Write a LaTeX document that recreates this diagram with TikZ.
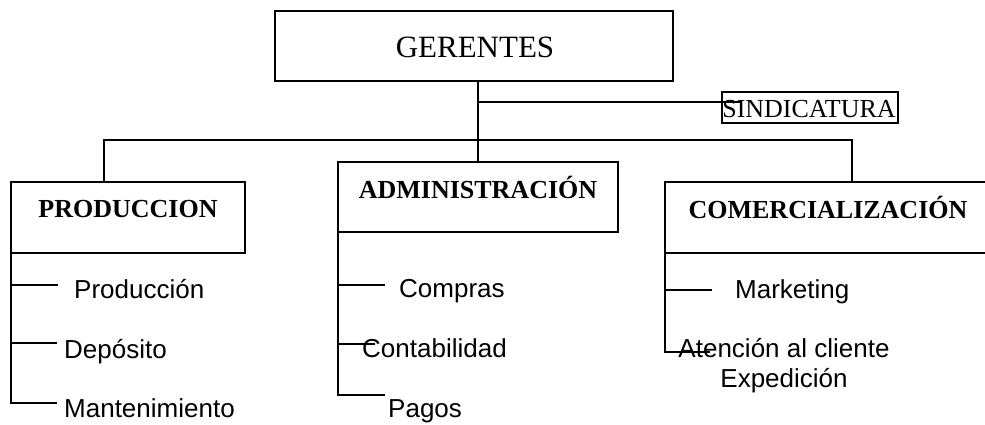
\documentclass[tikz,border=0pt]{standalone}
\usepackage{fontspec}
\setmainfont{Liberation Serif}
\newfontfamily\arialf{Liberation Sans}
\begin{document}
\begin{tikzpicture}[x=1pt,y=-1pt,
  box/.style={draw, line width=1.5pt, rectangle, inner sep=0pt, outer sep=0pt},
  conn/.style={line width=1.3pt},
  head/.style={inner sep=0pt, anchor=base, font=\fontsize{26}{31}\selectfont\bfseries},
  item/.style={inner sep=0pt, anchor=base west, font=\arialf\fontsize{26}{30}\selectfont}]
\useasboundingbox (0,0) rectangle (985,424);
\clip (0,0) rectangle (985,424);
% boxes
\node[box, minimum width=398pt, minimum height=70pt] (ger) at (474,46) {};
\node[box, minimum width=176pt, minimum height=31pt] (sind) at (810,107.5) {};
\node[box, minimum width=234pt, minimum height=71pt] (prod) at (128,217.5) {};
\node[box, minimum width=280pt, minimum height=70pt] (adm) at (478,197) {};
\node[box, minimum width=340pt, minimum height=71pt] (com) at (835,217.5) {};
% box texts
\node[inner sep=0pt, anchor=base, font=\fontsize{31}{36}\selectfont] (tger) at (475,57) {GERENTES};
\node[inner sep=0pt, anchor=base, font=\fontsize{26}{31}\selectfont] (tsind) at (809,117) {SINDICATURA};
\node[head] (tprod) at (128,217) {PRODUCCION};
\node[head] (tadm) at (478,198) {ADMINISTRACIÓN};
\node[head] (tcom) at (828,218) {COMERCIALIZACIÓN};
% helper coordinates
\coordinate (sj) at (478,102);
\coordinate (sindend) at (740,102);
\coordinate (bl) at (104,140);
\coordinate (br) at (852,140);
\coordinate (p1) at (58,285);
\coordinate (p2) at (57,343);
\coordinate (p3) at (57,403);
\coordinate (a1) at (385,285);
\coordinate (a2) at (375,344);
\coordinate (a3) at (385,395);
\coordinate (c1) at (712,290);
\coordinate (c2) at (710,352);
% main connectors
\draw[conn] (adm.north |- ger.south) -- (adm.north);
\draw[conn] (sj) -- (sindend);
\draw[conn] (prod.north -| bl) -- (bl) -- (br) -- (com.north -| br);
% produccion
\draw[conn] (prod.south west) -- (prod.south west |- p3) -- (p3);
\draw[conn] (prod.south west |- p1) -- (p1);
\draw[conn] (prod.south west |- p2) -- (p2);
% administracion
\draw[conn] (adm.south west) -- (adm.south west |- a3) -- (a3);
\draw[conn] (adm.south west |- a1) -- (a1);
\draw[conn] (adm.south west |- a2) -- (a2);
% comercializacion
\draw[conn] (com.south west) -- (com.south west |- c2) -- (c2);
\draw[conn] (com.south west |- c1) -- (c1);
% items
\node[item] (i1) at (74,298) {Producción};
\node[item] (i2) at (64,358) {Depósito};
\node[item] (i3) at (64,417) {Mantenimiento};
\node[item] (j1) at (399,297) {Compras};
\node[item] (j2) at (362,357) {Contabilidad};
\node[item] (j3) at (388,417) {Pagos};
\node[item] (k1) at (735,298) {Marketing};
\node[inner sep=0pt, anchor=base, font=\arialf\fontsize{26}{30}\selectfont] (k2) at (784,357) {Atención al cliente};
\node[inner sep=0pt, anchor=base, font=\arialf\fontsize{26}{30}\selectfont] (k3) at (784,387) {Expedición};
\end{tikzpicture}
\end{document}
